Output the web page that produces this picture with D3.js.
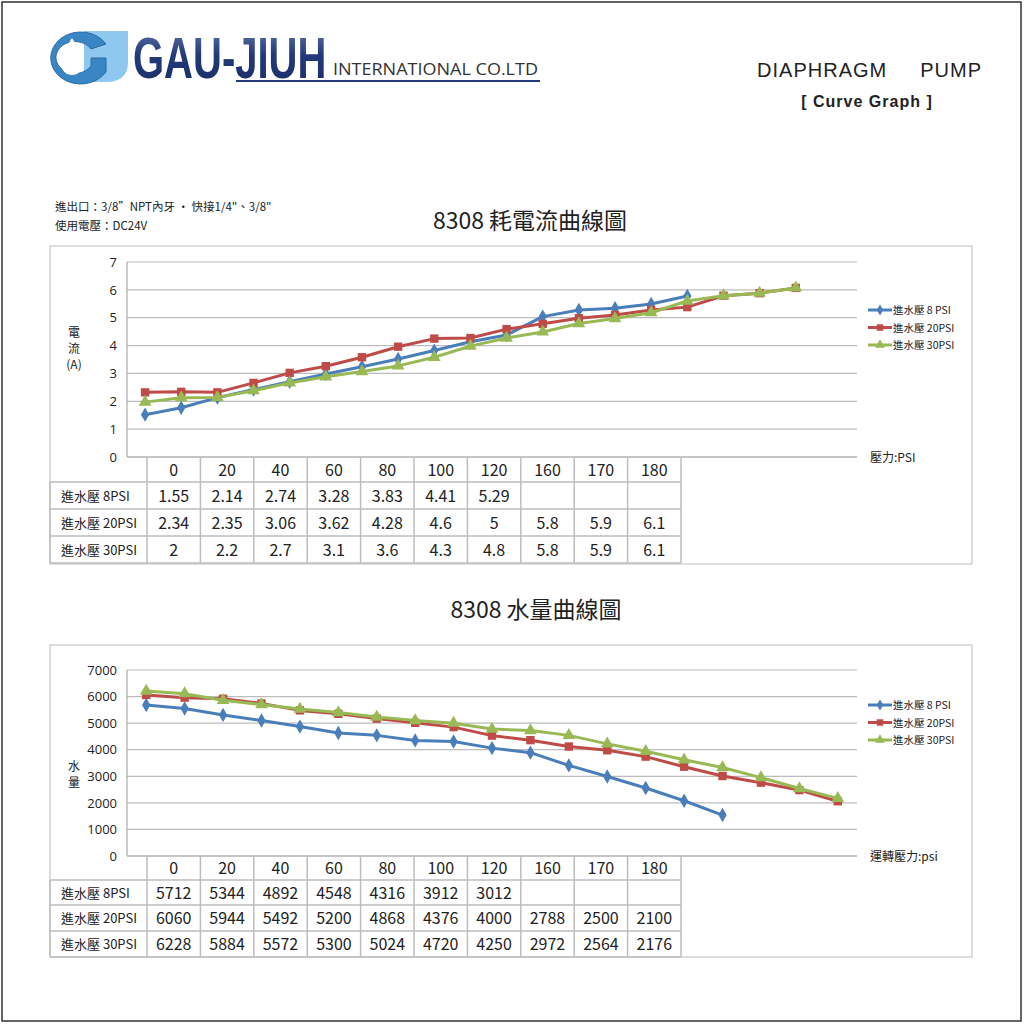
<!DOCTYPE html>
<html>
<head>
<meta charset="utf-8">
<script src="https://cdn.jsdelivr.net/npm/d3@7"></script>
<style>
  body { margin: 0; background: #fff; }
  svg text { font-family: "Noto Sans CJK TC", "Noto Sans", sans-serif; fill: #222; }
</style>
</head>
<body>
<div id="page"></div>
<script>
// ---- data ----
var seriesNames = ["進水壓 8 PSI", "進水壓 20PSI", "進水壓 30PSI"];
var tableLabels = ["進水壓 8PSI", "進水壓 20PSI", "進水壓 30PSI"];
var tableHeader = ["0", "20", "40", "60", "80", "100", "120", "160", "170", "180"];

// current chart (A) - plotted points
var current8 = [1.52, 1.77, 2.13, 2.42, 2.7, 2.98, 3.24, 3.52, 3.82, 4.14, 4.38, 5.04, 5.28, 5.34, 5.49, 5.78];
var current20 = [2.32, 2.34, 2.32, 2.66, 3.02, 3.26, 3.58, 3.96, 4.25, 4.27, 4.59, 4.78, 4.98, 5.1, 5.28, 5.38, 5.79, 5.88, 6.07];
var current30 = [1.97, 2.13, 2.14, 2.38, 2.66, 2.88, 3.07, 3.27, 3.58, 3.98, 4.27, 4.49, 4.79, 4.97, 5.18, 5.6, 5.79, 5.88, 6.07];
var currentTable8 = ["1.55", "2.14", "2.74", "3.28", "3.83", "4.41", "5.29", "", "", ""];
var currentTable20 = ["2.34", "2.35", "3.06", "3.62", "4.28", "4.6", "5", "5.8", "5.9", "6.1"];
var currentTable30 = ["2", "2.2", "2.7", "3.1", "3.6", "4.3", "4.8", "5.8", "5.9", "6.1"];
var currentTicks = [0, 1, 2, 3, 4, 5, 6, 7];

// flow chart - plotted points
var flow8 = [5680, 5550, 5310, 5100, 4870, 4630, 4540, 4350, 4310, 4060, 3890, 3410, 2990, 2560, 2080, 1540];
var flow20 = [6060, 5960, 5920, 5740, 5480, 5350, 5170, 5010, 4850, 4530, 4360, 4120, 3980, 3740, 3360, 3010, 2760, 2480, 2060];
var flow30 = [6210, 6110, 5860, 5700, 5530, 5400, 5230, 5100, 5000, 4780, 4720, 4540, 4220, 3940, 3620, 3330, 2950, 2540, 2170];
var flowTable8 = ["5712", "5344", "4892", "4548", "4316", "3912", "3012", "", "", ""];
var flowTable20 = ["6060", "5944", "5492", "5200", "4868", "4376", "4000", "2788", "2500", "2100"];
var flowTable30 = ["6228", "5884", "5572", "5300", "5024", "4720", "4250", "2972", "2564", "2176"];
var flowTicks = [0, 1000, 2000, 3000, 4000, 5000, 6000, 7000];

var colors = ["#4a7ebb", "#be4b48", "#98b954"];

var svg = d3.select("#page").append("svg")
  .attr("width", 1024).attr("height", 1024);

svg.append("rect").attr("x", 2).attr("y", 2).attr("width", 1019).attr("height", 1019)
  .attr("fill", "#fff").attr("stroke", "#333").attr("stroke-width", 1.5);

// ---- header ----
var logo = svg.append("g");
var grad = svg.append("defs").append("linearGradient").attr("id", "gj")
  .attr("x1", 0).attr("y1", 0).attr("x2", 0).attr("y2", 1);
grad.append("stop").attr("offset", "0").attr("stop-color", "#6479ad");
grad.append("stop").attr("offset", "0.45").attr("stop-color", "#22397a");
grad.append("stop").attr("offset", "1").attr("stop-color", "#1a2d66");

logo.append("path")
  .attr("d", "M84,31 L128,31 L128,62 Q128,82 106,82 L84,82 Z")
  .attr("fill", "#8ec8ee");
logo.append("path")
  .attr("d", "M106,44 A30,26 0 1 0 106,72 L106,58 L91,58 L91,66 A19,16 0 1 1 91,49 Z")
  .attr("fill", "#3a86c4").attr("stroke", "#2a6aa4").attr("stroke-width", 1);
logo.append("path")
  .attr("d", "M72,38 Q83,54 83,64 A10,10 0 0 1 61,64 Q61,54 72,38 Z")
  .attr("fill", "#fff");

// squeeze the bold wordmark horizontally
svg.append("text").attr("transform", "translate(133,78) scale(0.69,1)")
  .style("font-family", "'Liberation Sans', Arial, sans-serif")
  .style("font-weight", "bold").style("font-size", "58px")
  .style("fill", "url(#gj)")
  .text("GAU-JIUH");
svg.append("text").attr("x", 333).attr("y", 75)
  .attr("textLength", 205).attr("lengthAdjust", "spacingAndGlyphs")
  .style("font-family", "'Open Sans', sans-serif")
  .style("font-size", "16px").style("fill", "#333")
  .text("INTERNATIONAL CO.LTD");
svg.append("line").attr("x1", 236).attr("x2", 540).attr("y1", 81).attr("y2", 81)
  .attr("stroke", "#22397a").attr("stroke-width", 2);

svg.append("text").attr("x", 757).attr("y", 77)
  .style("font-family", "'Liberation Sans', Arial, sans-serif").style("font-size", "20px")
  .attr("textLength", 224).attr("lengthAdjust", "spacing")
  .attr("xml:space", "preserve")
  .text("DIAPHRAGM     PUMP");
svg.append("text").attr("x", 867).attr("y", 107).attr("text-anchor", "middle")
  .style("font-family", "'Liberation Sans', Arial, sans-serif").style("font-size", "16px")
  .style("font-weight", "bold").style("letter-spacing", "1px")
  .text("[ Curve Graph ]");

svg.append("text").attr("x", 55).attr("y", 211).style("font-size", "11.5px")
  .text("進出口：3/8”NPT內牙 · 快接1/4\"、3/8\"");
svg.append("text").attr("x", 55).attr("y", 230).style("font-size", "11.5px")
  .text("使用電壓：DC24V");

// ---- one chart + table block ----
function createPumpChart(cfg) {
  var g = svg.append("g");
  var left = 127, right = 857;

  g.append("text").attr("x", cfg.titleX).attr("y", cfg.titleY)
    .attr("text-anchor", "middle").style("font-size", "23px").text(cfg.title);

  // outer box
  g.append("rect").attr("x", 50).attr("y", cfg.boxTop)
    .attr("width", 922).attr("height", cfg.boxBottom - cfg.boxTop)
    .attr("fill", "none").attr("stroke", "#bdbdbd");

  var x = d3.scalePoint()
    .domain(d3.range(cfg.nCats))
    .range([left, cfg.xRight])
    .padding(0.5);

  var y = d3.scaleLinear().domain(cfg.yDomain).range([cfg.y0, cfg.yTop]);

  // gridlines
  g.selectAll(".grid").data(cfg.ticks).enter().append("line")
    .attr("x1", left).attr("x2", right)
    .attr("y1", function(d) { return y(d); }).attr("y2", function(d) { return y(d); })
    .attr("stroke", "#bcbcbc").attr("stroke-width", 1.2);

  g.append("line").attr("x1", left).attr("x2", left).attr("y1", y(cfg.yDomain[1])).attr("y2", cfg.y0)
    .attr("stroke", "#999");

  // y axis
  var axis = g.append("g").attr("transform", "translate(" + left + ",0)")
    .call(d3.axisLeft(y).tickValues(cfg.ticks).tickFormat(d3.format("d")).tickSize(0).tickPadding(10));
  axis.select(".domain").remove();
  axis.selectAll("text").style("font-size", "13px").style("font-family", "'Open Sans', 'Noto Sans', sans-serif").attr("fill", "#222");

  // y label (vertical chars)
  cfg.yLabel.forEach(function(t, i) {
    g.append("text").attr("x", 74).attr("y", cfg.yLabelY + i * 16)
      .attr("text-anchor", "middle").style("font-size", "12px").text(t);
  });

  g.append("text").attr("x", 870).attr("y", cfg.y0 + 5).style("font-size", "12px").text(cfg.xLabel);

  // lines and markers
  var line = d3.line()
    .x(function(d, i) { return x(i); })
    .y(function(d) { return y(d); });

  var symbols = [d3.symbolDiamond, d3.symbolSquare, d3.symbolTriangle];
  var symSizes = [60, 70, 70];

  cfg.series.forEach(function(s, k) {
    g.append("path").datum(s)
      .attr("fill", "none").attr("stroke", colors[k]).attr("stroke-width", 3)
      .attr("stroke-linejoin", "round")
      .attr("d", line);
    g.selectAll(".m" + k).data(s).enter().append("path")
      .attr("transform", function(d, i) { return "translate(" + x(i) + "," + y(d) + ")"; })
      .attr("d", d3.symbol().type(symbols[k]).size(symSizes[k]))
      .attr("fill", colors[k]);
  });

  // legend
  seriesNames.forEach(function(n, k) {
    var ly = cfg.legendY + k * 17.5;
    g.append("line").attr("x1", 868).attr("x2", 892).attr("y1", ly).attr("y2", ly)
      .attr("stroke", colors[k]).attr("stroke-width", 3);
    g.append("path").attr("transform", "translate(880," + ly + ")")
      .attr("d", d3.symbol().type(symbols[k]).size(symSizes[k] * 0.6))
      .attr("fill", colors[k]);
    g.append("text").attr("x", 893).attr("y", ly + 4).style("font-size", "10.5px").text(n);
  });

  // table
  var colX = d3.scaleBand().domain(d3.range(tableHeader.length)).range([147, 681]);
  var rows = cfg.rowY; // row boundaries
  var tg = g.append("g");
  var stroke = "#bdbdbd";

  // header row
  tableHeader.forEach(function(h, i) {
    tg.append("text").attr("x", colX(i) + colX.bandwidth() / 2).attr("y", (rows[0] + rows[1]) / 2 + 6)
      .attr("text-anchor", "middle").style("font-size", "16px").text(h);
  });
  cfg.table.forEach(function(r, j) {
    var yc = (rows[j + 1] + rows[j + 2]) / 2 + 6;
    tg.append("text").attr("x", 61).attr("y", yc - 1).style("font-size", "13px").text(tableLabels[j]);
    r.forEach(function(v, i) {
      tg.append("text").attr("x", colX(i) + colX.bandwidth() / 2).attr("y", yc)
        .attr("text-anchor", "middle").style("font-size", "16px").text(v);
    });
  });
  // horizontal lines
  for (var j = 1; j < rows.length; j++) {
    tg.append("line").attr("x1", 50).attr("x2", 681).attr("y1", rows[j]).attr("y2", rows[j])
      .attr("stroke", stroke).attr("stroke-width", 1.5);
  }
  tg.append("line").attr("x1", left).attr("x2", right).attr("y1", rows[0]).attr("y2", rows[0])
    .attr("stroke", stroke).attr("stroke-width", 1.5);
  // vertical lines
  d3.range(tableHeader.length + 1).forEach(function(i) {
    var xx = i < tableHeader.length ? colX(i) : 681;
    tg.append("line").attr("x1", xx).attr("x2", xx).attr("y1", rows[0]).attr("y2", rows[rows.length - 1])
      .attr("stroke", stroke).attr("stroke-width", 1.5);
  });
  tg.append("line").attr("x1", 50).attr("x2", 50).attr("y1", rows[1]).attr("y2", rows[rows.length - 1])
    .attr("stroke", stroke).attr("stroke-width", 1.5);
}

createPumpChart({
  title: "8308 耗電流曲線圖", titleX: 530, titleY: 229,
  boxTop: 246, boxBottom: 564,
  nCats: 20, xRight: 850, yDomain: [0, 7], ticks: currentTicks, y0: 457, yTop: 262,
  yLabel: ["電", "流", "(A)"], yLabelY: 337, xLabel: "壓力:PSI",
  series: [current8, current20, current30],
  legendY: 310,
  rowY: [457, 482, 509, 536, 563],
  table: [currentTable8, currentTable20, currentTable30]
});

createPumpChart({
  title: "8308 水量曲線圖", titleX: 536, titleY: 618,
  boxTop: 645, boxBottom: 957,
  nCats: 19, xRight: 857, yDomain: [0, 7000], ticks: flowTicks, y0: 856, yTop: 670,
  yLabel: ["水", "量"], yLabelY: 771, xLabel: "運轉壓力:psi",
  series: [flow8, flow20, flow30],
  legendY: 705,
  rowY: [856, 880, 905, 931, 957],
  table: [flowTable8, flowTable20, flowTable30]
});
</script>
</body>
</html>
